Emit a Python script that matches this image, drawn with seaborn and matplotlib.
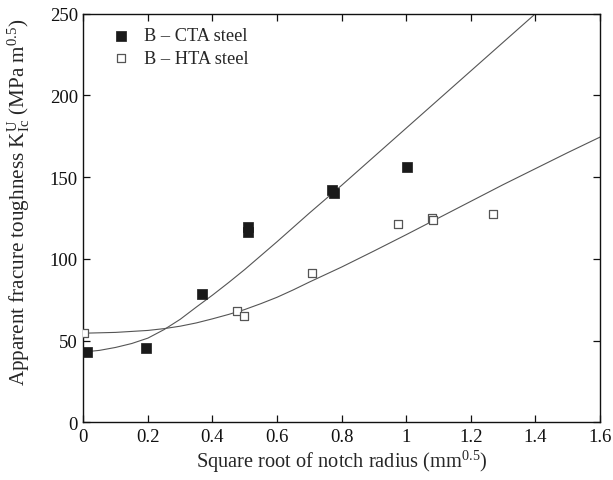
import matplotlib
matplotlib.use('Agg')
import matplotlib.pyplot as plt
import seaborn as sns
import pandas as pd

# measured points
cta_x = [0.01, 0.195, 0.368, 0.511, 0.511, 0.77, 0.775, 1.003]
cta_k = [42.8, 45.5, 78.5, 119.4, 116.6, 142.0, 140.5, 156.5]
hta_x = [0.002, 0.477, 0.497, 0.708, 0.973, 1.079, 1.084, 1.269]
hta_k = [54.5, 68.0, 65.2, 91.5, 121.5, 125.3, 123.8, 127.4]

# fitted curves
cta_fit_x = [0, 0.05, 0.1, 0.15, 0.2, 0.25, 0.3, 0.35, 0.4, 0.45, 0.5, 0.55,
             0.6, 0.7, 0.8, 0.9, 1.0, 1.1, 1.2, 1.3, 1.4, 1.45]
cta_fit_k = [43.0, 44.0, 45.8, 48.2, 51.5, 56.7, 63.0, 70.5, 77.8, 85.5, 93.5,
             102.0, 110.5, 128.0, 145.0, 162.5, 180.0, 197.5, 215.0, 232.5,
             250.0, 258.8]
hta_fit_x = [0, 0.1, 0.2, 0.25, 0.3, 0.35, 0.4, 0.45, 0.5, 0.55, 0.6, 0.65,
             0.7, 0.8, 0.9, 1.0, 1.1, 1.2, 1.3, 1.4, 1.5, 1.6]
hta_fit_k = [54.5, 55.0, 56.2, 57.3, 58.8, 60.8, 63.3, 66.0, 69.0, 72.6, 76.5,
             81.0, 85.8, 95.0, 104.8, 114.8, 125.0, 135.2, 145.4, 155.2, 165.0,
             174.5]

x_ticks = [0, 0.2, 0.4, 0.6, 0.8, 1, 1.2, 1.4, 1.6]
x_ticklabels = ['0', '0.2', '0.4', '0.6', '0.8', '1', '1.2', '1.4', '1.6']
y_ticks = [0, 50, 100, 150, 200, 250]

sns.set_style('ticks')
plt.rcParams['font.family'] = ['Liberation Serif', 'DejaVu Serif']
plt.rcParams['mathtext.fontset'] = 'custom'
plt.rcParams['mathtext.rm'] = 'Liberation Serif'
plt.rcParams['mathtext.it'] = 'Liberation Serif:italic'

fig = plt.figure(figsize=(6.13, 4.81), dpi=100)
ax = fig.add_axes([0.1359, 0.12, 0.8429, 0.8494])

cta = pd.DataFrame({'x': cta_x, 'k': cta_k})
hta = pd.DataFrame({'x': hta_x, 'k': hta_k})
cta_fit = pd.DataFrame({'x': cta_fit_x, 'k': cta_fit_k})
hta_fit = pd.DataFrame({'x': hta_fit_x, 'k': hta_fit_k})

sns.lineplot(data=cta_fit, x='x', y='k', color='#555555', lw=0.8, ax=ax,
             legend=False, sort=False)
sns.lineplot(data=hta_fit, x='x', y='k', color='#555555', lw=0.8, ax=ax,
             legend=False, sort=False)
sns.scatterplot(data=cta, x='x', y='k', marker='s', s=42, color='#1a1a1a',
                edgecolor='#1a1a1a', linewidth=0.5, label='B \u2013 CTA steel', ax=ax, zorder=3)
sns.scatterplot(data=hta, x='x', y='k', marker='s', s=36, facecolor='white',
                edgecolor='#555555', linewidth=0.9, label='B \u2013 HTA steel', ax=ax, zorder=3)

ax.set_xlim(0, 1.6)
ax.set_ylim(0, 250)
ax.set_xticks(x_ticks)
ax.set_xticklabels(x_ticklabels)
ax.set_yticks(y_ticks)
ax.tick_params(direction='in', length=5, width=0.9, top=True, right=True,
               labelsize=13.5, colors='#111111', pad=4)
for sp in ax.spines.values():
    sp.set_linewidth(1.0)
    sp.set_color('#111111')

ax.set_xlabel('Square root of notch radius (mm$^{0.5}$)', fontsize=14.7, labelpad=2)
ax.set_ylabel('Apparent fracure toughness K$_{\\rm Ic}^{\\rm U}$ (MPa m$^{0.5}$)',
              fontsize=15.2)
ax.yaxis.set_label_coords(-0.10, 0.54)

ax.legend(loc='upper left', frameon=False, fontsize=13.2, handletextpad=0.3,
          borderaxespad=0.35, bbox_to_anchor=(0.01, 1.0), labelspacing=0.3)

fig.savefig('out.png', dpi=100)
